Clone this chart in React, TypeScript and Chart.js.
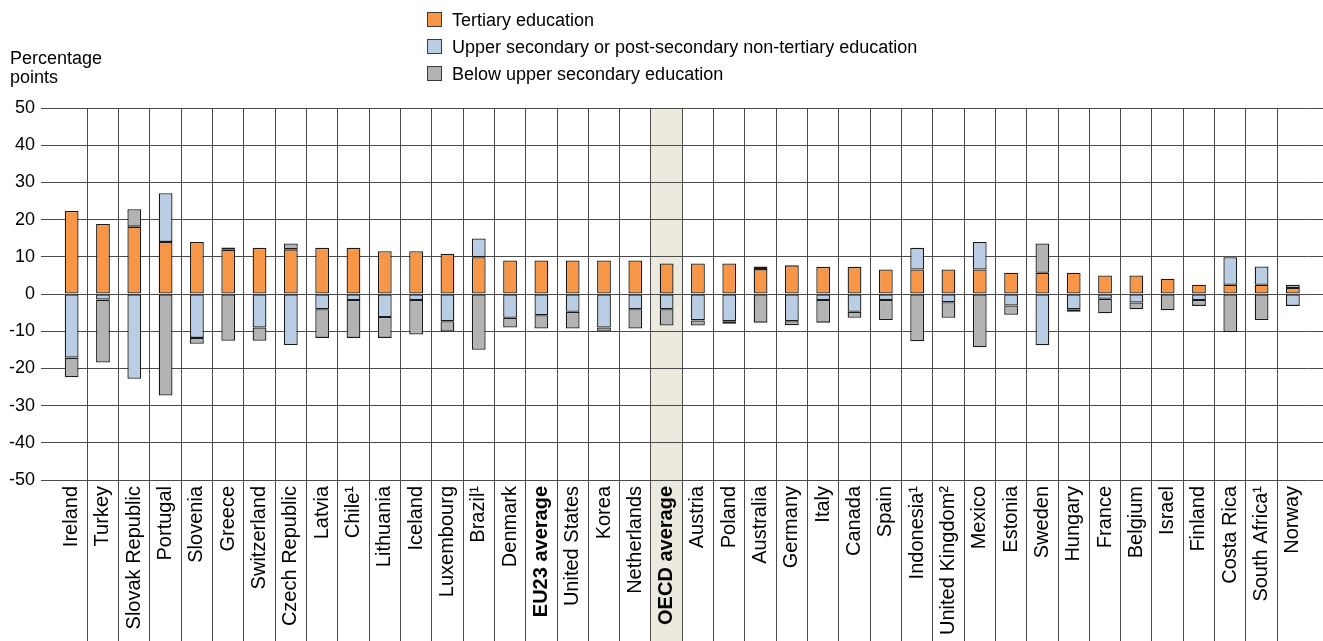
import React, { useEffect, useRef } from "react";
import { Chart, registerables } from "chart.js";

Chart.register(...registerables);

const categories = [
  "Ireland", "Turkey", "Slovak Republic", "Portugal", "Slovenia", "Greece", "Switzerland",
  "Czech Republic", "Latvia", "Chile¹", "Lithuania", "Iceland", "Luxembourg", "Brazil¹",
  "Denmark", "EU23 average", "United States", "Korea", "Netherlands", "OECD average",
  "Austria", "Poland", "Australia", "Germany", "Italy", "Canada", "Spain", "Indonesia¹",
  "United Kingdom²", "Mexico", "Estonia", "Sweden", "Hungary", "France", "Belgium",
  "Israel", "Finland", "Costa Rica", "South Africa¹", "Norway",
];

const tertiary = [
  22.3, 18.8, 18.1, 14.0, 14.0, 11.9, 12.4, 12.0, 12.4, 12.4, 11.5, 11.5, 10.8, 9.9,
  9.0, 9.0, 9.0, 9.0, 9.0, 8.2, 8.2, 8.2, 6.7, 7.7, 7.3, 7.3, 6.6, 6.6, 6.6, 6.6,
  5.7, 5.7, 5.7, 5.0, 5.0, 4.1, 2.5, 2.5, 2.5, 1.6,
];

const upperSecondary = [
  -17.1, -1.5, -22.8, 13.1, -11.8, 0.6, -9.0, -13.7, -4.1, -1.6, -6.2, -1.6, -7.3, 5.0,
  -6.4, -5.7, -4.8, -9.0, -4.1, -4.1, -7.1, -7.3, 0.7, -7.3, -1.6, -4.8, -1.6, 5.8,
  -2.2, 7.4, -3.1, -13.8, -4.1, -1.3, -2.3, 0, -1.6, 7.4, 4.9, -3.2,
];

const belowUpperSecondary = [
  -5.3, -16.9, 4.7, -27.3, -1.6, -12.6, -3.6, 1.6, -7.7, -10.2, -5.6, -9.3, -2.8, -15.0,
  -2.6, -3.6, -4.5, -1.1, -5.2, -4.4, -1.4, -0.7, -7.7, -1.1, -6.1, -1.6, -5.4, -12.7,
  -4.2, -14.3, -2.5, 7.9, -0.7, -3.9, -1.8, -4.4, -1.6, -10.2, -7.0, 0.9,
];

const seriesNames = [
  "Tertiary education",
  "Upper secondary or post-secondary non-tertiary education",
  "Below upper secondary education",
];
const seriesColors = ["#F79646", "#B9CDE5", "#B3B3B3"];

const yMin = -50;
const yMax = 50;
const yStep = 10;

const boldCategories = ["EU23 average", "OECD average"];
const highlightCategory = "OECD average";

const FONT = '"Liberation Sans", Arial, Helvetica, sans-serif';
const GRID = "#4a4a4a";
const BAND = "#ECE9DF";
const BAR_BORDER = "#1a1a1a";

const align = (p: number) => Math.round(p - 0.5) + 0.5;

const decorPlugin = {
  id: "decor",
  beforeDraw(chart: any) {
    const { ctx, chartArea } = chart;
    const x = chart.scales.x;
    const idx = categories.indexOf(highlightCategory);
    const half = (x.getPixelForValue(1) - x.getPixelForValue(0)) / 2;
    const cx = x.getPixelForValue(idx);
    ctx.save();
    ctx.fillStyle = BAND;
    ctx.fillRect(cx - half, chartArea.top, half * 2, chart.height - chartArea.top);
    ctx.restore();
  },
  beforeDatasetsDraw(chart: any) {
    const { ctx, chartArea } = chart;
    const x = chart.scales.x;
    const y = chart.scales.y;
    ctx.save();
    ctx.strokeStyle = GRID;
    ctx.lineWidth = 1;
    ctx.beginPath();
    for (let i = 1; i < categories.length; i++) {
      const bx = align((x.getPixelForValue(i - 1) + x.getPixelForValue(i)) / 2);
      ctx.moveTo(bx, chartArea.top);
      ctx.lineTo(bx, chart.height);
    }
    for (const t of y.ticks) {
      const py = align(y.getPixelForValue(t.value));
      ctx.moveTo(chartArea.right, py);
      ctx.lineTo(chart.width, py);
    }
    ctx.stroke();
    ctx.restore();
  },
};

export default function App() {
  const canvasRef = useRef<HTMLCanvasElement | null>(null);

  useEffect(() => {
    if (!canvasRef.current) return;
    const seriesData = [tertiary, upperSecondary, belowUpperSecondary];
    const chart = new Chart(canvasRef.current, {
      type: "bar",
      data: {
        labels: categories,
        datasets: seriesData.map((d, i) => ({
          label: seriesNames[i],
          data: d,
          backgroundColor: seriesColors[i],
          borderColor: BAR_BORDER,
          borderWidth: 1.3,
          borderSkipped: false,
          barPercentage: 0.44,
          categoryPercentage: 1,
        })),
      },
      options: {
        animation: false,
        responsive: true,
        maintainAspectRatio: false,
        layout: { padding: { left: 0, right: 7.5, top: 108, bottom: 0 } },
        plugins: {
          legend: { display: false },
          tooltip: { enabled: false },
        },
        scales: {
          x: {
            stacked: true,
            offset: true,
            grid: { display: false, drawTicks: false },
            border: { display: false },
            ticks: {
              autoSkip: false,
              maxRotation: 90,
              minRotation: 90,
              padding: 6,
              color: "#000",
              font: (ctx: any) => ({
                family: FONT,
                size: 20,
                weight: ctx.tick && boldCategories.includes(ctx.tick.label) ? "bold" : "normal",
              }),
            },
            afterFit: (scale: any) => {
              scale.height = 161;
            },
          },
          y: {
            stacked: true,
            min: yMin,
            max: yMax,
            grid: {
              color: GRID,
              lineWidth: 1,
              drawTicks: true,
              tickLength: 15,
              tickColor: GRID,
            },
            border: { display: false },
            ticks: {
              stepSize: yStep,
              padding: 6,
              color: "#000",
              font: { family: FONT, size: 18 },
            },
            afterFit: (scale: any) => {
              scale.width = 56;
            },
          },
        },
      },
      plugins: [decorPlugin],
    });
    return () => chart.destroy();
  }, []);

  const textStyle: React.CSSProperties = {
    fontFamily: FONT,
    fontSize: 18,
    color: "#000",
    lineHeight: "19px",
  };

  return (
    <div
      style={{
        position: "absolute",
        left: 0,
        top: 0,
        width: 1323,
        height: 641,
        background: "#fff",
        overflow: "hidden",
      }}
    >
      <canvas ref={canvasRef} />
      <div style={{ ...textStyle, position: "absolute", left: 10, top: 49 }}>
        Percentage
        <br />
        points
      </div>
      <div style={{ position: "absolute", left: 427, top: 6 }}>
        {seriesNames.map((name, i) => (
          <div
            key={name}
            style={{ display: "flex", alignItems: "center", height: 27 }}
          >
            <div
              style={{
                width: 15,
                height: 15,
                boxSizing: "border-box",
                border: "1px solid #3a3a3a",
                background: seriesColors[i],
                marginRight: 10,
              }}
            />
            <span style={{ ...textStyle, lineHeight: "20px" }}>{name}</span>
          </div>
        ))}
      </div>
    </div>
  );
}
